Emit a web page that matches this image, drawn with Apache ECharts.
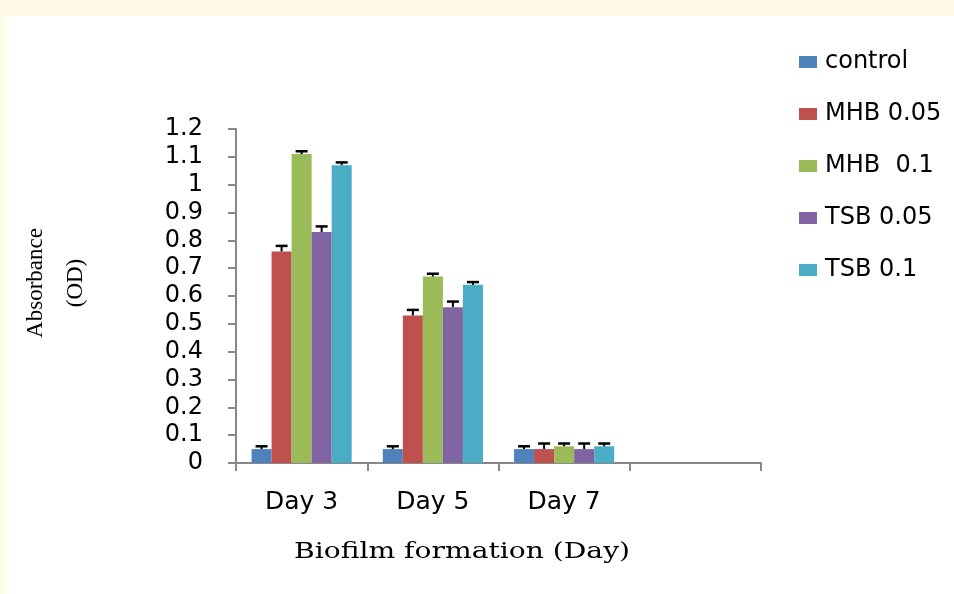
<!DOCTYPE html>
<html>
<head>
<meta charset="utf-8">
<script src="https://cdn.jsdelivr.net/npm/echarts@6/dist/echarts.min.js"></script>
<style>html,body{margin:0;padding:0;background:#fffbe6;}#c{width:954px;height:594px;}</style>
</head>
<body>
<div id="c"></div>
<script>
var categories = ['Day 3', 'Day 5', 'Day 7', ''];
var seriesNames = ['control', 'MHB 0.05', 'MHB  0.1', 'TSB 0.05', 'TSB 0.1'];
var colors = ['#4F81BD', '#C0504D', '#9BBB59', '#8064A2', '#4BACC6'];
var control = [0.05, 0.05, 0.05, null];
var mhb005 = [0.76, 0.53, 0.05, null];
var mhb01 = [1.11, 0.67, 0.06, null];
var tsb005 = [0.83, 0.56, 0.05, null];
var tsb01 = [1.07, 0.64, 0.06, null];
var controlErr = [0.01, 0.01, 0.01, null];
var mhb005Err = [0.02, 0.02, 0.02, null];
var mhb01Err = [0.01, 0.01, 0.01, null];
var tsb005Err = [0.02, 0.02, 0.02, null];
var tsb01Err = [0.01, 0.01, 0.01, null];
var yTicks = [0, 0.1, 0.2, 0.3, 0.4, 0.5, 0.6, 0.7, 0.8, 0.9, 1, 1.1, 1.2];
var xAxisTitle = 'Biofilm formation (Day)';
var yAxisTitle = 'Absorbance\n(OD)';

var values = [control, mhb005, mhb01, tsb005, tsb01];
var errors = [controlErr, mhb005Err, mhb01Err, tsb005Err, tsb01Err];
var catGap = 0.237;
var nSeries = values.length;

var chart = echarts.init(document.getElementById('c'));
var series = [];
values.forEach(function (vals, s) {
  series.push({
    name: seriesNames[s],
    type: 'bar',
    data: vals,
    barGap: '0%',
    barCategoryGap: (catGap * 100) + '%',
    itemStyle: { color: colors[s] },
    z: 2
  });
});
values.forEach(function (vals, s) {
  var d = [];
  vals.forEach(function (v, i) { if (v != null) d.push([i, v, errors[s][i]]); });
  series.push({
    type: 'custom',
    name: seriesNames[s] + ' err',
    z: 5,
    silent: true,
    renderItem: function (params, api) {
      var i = api.value(0), v = api.value(1), e = api.value(2);
      var catW = api.size([1, 0])[0];
      var barW = catW * (1 - catGap) / nSeries;
      var off = -barW * nSeries / 2 + barW * (s + 0.5);
      var p0 = api.coord([i, v]);
      var p1 = api.coord([i, v + e]);
      var x = p0[0] + off;
      var cap = 6;
      return {
        type: 'group',
        children: [
          { type: 'line', shape: { x1: x, y1: p0[1], x2: x, y2: p1[1] }, style: { stroke: '#000', lineWidth: 2 } },
          { type: 'line', shape: { x1: x - cap, y1: p1[1], x2: x + cap, y2: p1[1] }, style: { stroke: '#000', lineWidth: 2.5 } }
        ]
      };
    },
    data: d
  });
});

chart.setOption({
  backgroundColor: '#fffbe6',
  animation: false,
  graphic: [
    { type: 'rect', left: 5, top: 16, z: -10, shape: { width: 949, height: 578 }, style: { fill: '#ffffff' } },
    { type: 'text', x: 294, y: 552, scaleX: 1.28, originX: 0, originY: 0, z: 10,
      style: { text: xAxisTitle, fontFamily: 'DejaVu Serif', fontSize: 22, fill: '#000', textAlign: 'left', textVerticalAlign: 'middle' } }
  ],
  legend: {
    orient: 'vertical',
    left: 794,
    top: 43,
    itemWidth: 18,
    itemHeight: 12,
    itemGap: 24,
    icon: 'rect',
    data: seriesNames,
    textStyle: { fontFamily: 'DejaVu Sans', fontSize: 24, color: '#000', lineHeight: 28, padding: [0, 0, 0, 3] }
  },
  grid: { left: 236, right: 193, top: 129, bottom: 131, containLabel: false },
  xAxis: {
    type: 'category',
    data: categories,
    axisLine: { lineStyle: { color: '#888', width: 2 } },
    axisTick: { show: true, length: 8, lineStyle: { color: '#888', width: 2 } },
    axisLabel: { fontFamily: 'DejaVu Sans', fontSize: 25, color: '#000', margin: 27 },
    splitLine: { show: false }
  },
  yAxis: {
    type: 'value',
    min: 0,
    max: 1.2,
    interval: 0.1,
    name: yAxisTitle,
    nameLocation: 'middle',
    nameRotate: 90,
    nameGap: 140,
    nameTextStyle: { fontFamily: 'Liberation Serif', fontSize: 23, color: '#000', lineHeight: 40, padding: [0, 0, 0, 26] },
    axisLine: { show: true, lineStyle: { color: '#888', width: 2 } },
    axisTick: { show: true, length: 8, lineStyle: { color: '#888', width: 2 } },
    axisLabel: {
      fontFamily: 'DejaVu Sans', fontSize: 24, color: '#000', margin: 33,
      formatter: function (v) { var t = yTicks.reduce(function (a, b) { return Math.abs(b - v) < Math.abs(a - v) ? b : a; }); return String(t); }
    },
    splitLine: { show: false }
  },
  series: series
});
</script>
</body>
</html>
